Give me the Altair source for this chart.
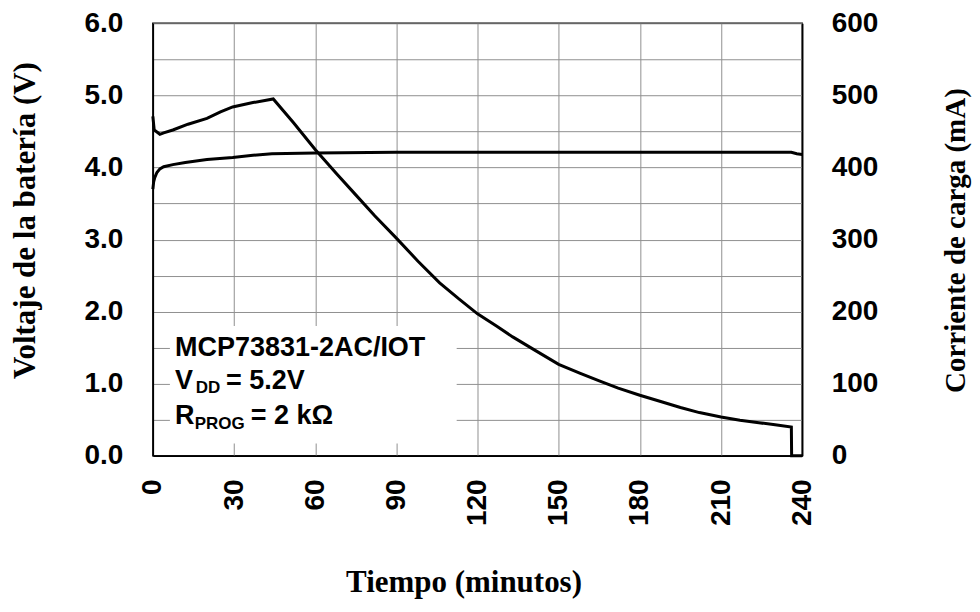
import altair as alt
import pandas as pd

# Battery voltage (V) vs time (min)
time_v = [0, 0.3, 0.7, 1.5, 2.6, 4, 7.4, 12, 20, 29.5, 37, 44, 60, 90, 120, 150, 180, 210, 236, 238, 240]
volt = [3.70, 3.80, 3.86, 3.93, 3.98, 4.01, 4.04, 4.07, 4.11, 4.14, 4.17, 4.19, 4.20, 4.21, 4.21, 4.21, 4.21, 4.21, 4.21, 4.19, 4.18]

# Charge current (mA) vs time (min)
time_i = [0, 0.5, 2.6, 4, 7.4, 13, 20, 25, 29.5, 37, 44.5, 52, 60, 68, 75, 82, 90, 98, 106, 113, 120, 127,
          133, 141, 150, 158, 165, 172, 180, 188, 195, 202, 210, 217, 224, 230, 236, 236.1, 240]
curr = [471, 452, 446, 448, 452, 460, 468, 477, 484, 490, 495, 462, 425, 391, 362, 333, 302, 270, 240, 218, 197, 180,
        165, 147, 127, 114.5, 104, 94, 84, 75, 67, 60, 54, 49.5, 46, 43, 40, 0, 0]

x_ticks = [0, 30, 60, 90, 120, 150, 180, 210, 240]
v_grid = [0, 0.5, 1, 1.5, 2, 2.5, 3, 3.5, 4, 4.5, 5, 5.5, 6]
i_ticks = [0, 100, 200, 300, 400, 500, 600]

# annotation box (white background) and text
box_t = [6.3, 112.3]
box_v = [0.17, 1.80]
main_texts = ["MCP73831-2AC/IOT", "V", "= 5.2V", "R", "= 2 kΩ"]
main_t = [8.2, 8.2, 27.0, 8.2, 36.2]
main_v = [1.386, 0.928, 0.928, 0.443, 0.443]
sub_texts = ["DD", "PROG"]
sub_t = [15.9, 15.5]
sub_v = [0.873, 0.374]

df_v = pd.DataFrame({"t": time_v, "v": volt})
df_i = pd.DataFrame({"t": time_i, "i": curr})
df_box = pd.DataFrame({"t0": [box_t[0]], "t1": [box_t[1]], "v0": [box_v[0]], "v1": [box_v[1]]})
df_main = pd.DataFrame({"t": main_t, "v": main_v, "label": main_texts})
df_sub = pd.DataFrame({"t": sub_t, "v": sub_v, "label": sub_texts})

x_scale = alt.Scale(domain=[0, 240], nice=False)
x_axis = alt.Axis(values=x_ticks, title="Tiempo (minutos)", labelAngle=270, labelAlign="right",
                  labelBaseline="middle", labelPadding=23, labelFlush=False,
                  titleX=311, titleY=136, titleBaseline="alphabetic", titleAlign="center", titleAngle=0)
yv_scale = alt.Scale(domain=[0, 6], nice=False)
yv_axis = alt.Axis(values=v_grid, labelExpr="datum.value % 1 === 0 ? format(datum.value, '.1f') : ''",
                   title="Voltaje de la batería (V)", labelPadding=30, titleX=-127, titleY=197,
                   titleAngle=270, titleBaseline="middle", titleAlign="center")

volt_line = alt.Chart(df_v).mark_line(color="black", strokeWidth=3).encode(
    x=alt.X("t:Q", scale=x_scale, axis=x_axis),
    y=alt.Y("v:Q", scale=yv_scale, axis=yv_axis),
)

box = alt.Chart(df_box).mark_rect(fill="white").encode(
    x=alt.X("t0:Q", scale=x_scale, axis=x_axis),
    x2="t1:Q",
    y=alt.Y("v0:Q", scale=yv_scale, axis=yv_axis),
    y2="v1:Q",
)

main_text = alt.Chart(df_main).mark_text(align="left", baseline="alphabetic", font="Liberation Sans",
                                         fontWeight="bold", fontSize=27, color="black").encode(
    x=alt.X("t:Q", scale=x_scale, axis=x_axis),
    y=alt.Y("v:Q", scale=yv_scale, axis=yv_axis),
    text="label:N",
)

sub_text = alt.Chart(df_sub).mark_text(align="left", baseline="alphabetic", font="Liberation Sans",
                                       fontWeight="bold", fontSize=17, color="black").encode(
    x=alt.X("t:Q", scale=x_scale, axis=x_axis),
    y=alt.Y("v:Q", scale=yv_scale, axis=yv_axis),
    text="label:N",
)

left_layer = alt.layer(volt_line, box, main_text, sub_text)

curr_line = alt.Chart(df_i).mark_line(color="black", strokeWidth=3).encode(
    x=alt.X("t:Q", scale=x_scale, axis=x_axis),
    y=alt.Y("i:Q", scale=alt.Scale(domain=[0, 600], nice=False),
            axis=alt.Axis(orient="right", values=i_ticks, grid=False, title="Corriente de carga (mA)",
                          labelPadding=29, titleAngle=270, titleX=153, titleY=217, titleFontSize=29,
                          titleBaseline="middle", titleAlign="center")),
)

chart = alt.layer(left_layer, curr_line).resolve_scale(y="independent").properties(
    width=650, height=433,
    autosize=alt.AutoSizeParams(type="none"),
    padding={"left": 145, "top": 15, "right": 170, "bottom": 150},
).configure_axis(
    labelFont="Liberation Sans", labelFontWeight="bold", labelFontSize=28, labelColor="black",
    titleFont="Liberation Serif", titleFontWeight="bold", titleFontSize=31, titleColor="black",
    ticks=False, gridColor="#909090", gridWidth=1, gridOpacity=1,
    domainColor="black", domainWidth=1.5,
).configure_view(stroke="black", strokeWidth=1.5)

chart.save("out.html", embed_options={"renderer": "svg", "actions": False})
